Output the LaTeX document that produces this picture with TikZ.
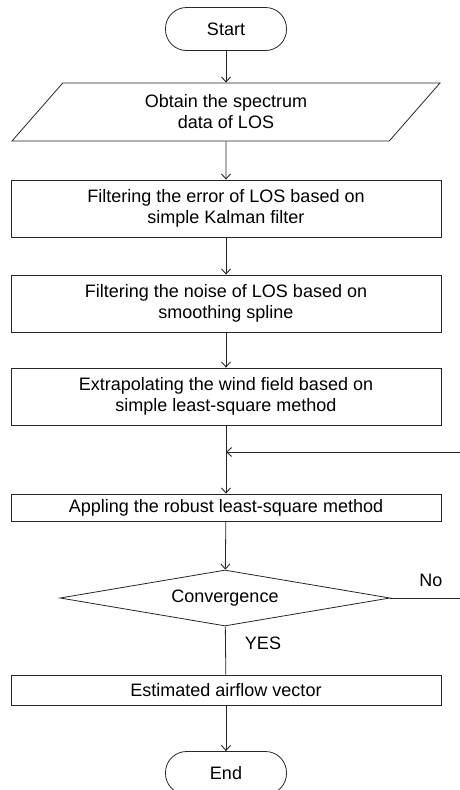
\documentclass[tikz,border=0pt]{standalone}
\usepackage{fontspec}
\setmainfont{Liberation Sans}
\usetikzlibrary{shapes.geometric,arrows.meta}

\tikzset{
  base/.style={draw=black!85, line width=0.8pt, align=center, inner sep=0pt,
    font=\fontsize{18}{21}\selectfont},
  terminal/.style={base, rectangle, rounded corners=21pt,
    minimum width=121pt, minimum height=43pt},
  iobox/.style={base, trapezium, trapezium left angle=34, trapezium right angle=146,
    trapezium stretches body, minimum width=428pt, minimum height=58pt},
  procbox/.style={base, rectangle, minimum width=430pt},
  decision/.style={base, diamond, aspect=6, minimum width=330pt, minimum height=56pt},
  flow/.style={draw=black!85, line width=0.8pt,
    -{Straight Barb[length=5pt,width=9pt,line width=0.9pt]}},
  plainline/.style={draw=black!85, line width=0.8pt},
  lbl/.style={font=\fontsize{18}{21}\selectfont, inner sep=0pt}
}

\begin{document}
\begin{tikzpicture}[x=1pt,y=-1pt]
  \useasboundingbox (0,0) rectangle (459,790);

  % main column of steps
  \node[terminal] (start) at (226,29) {Start};
  \node[iobox] (obtain) at (226,112) {Obtain the spectrum\\data of LOS};
  \node[procbox, minimum height=57pt] (kalman) at (226,208.5)
    {Filtering the error of LOS based on\\simple Kalman filter};
  \node[procbox, minimum height=57pt] (spline) at (226,303.5)
    {Filtering the noise of LOS based on\\smoothing spline};
  \node[procbox, minimum height=57pt] (extra) at (226,396.5)
    {Extrapolating the wind field based on\\simple least-square method};
  \node[procbox, minimum height=27pt] (robust) at (226,507.5)
    {Appling the robust least-square method};
  \node[decision] (conv) at (225,598) {Convergence};
  \node[procbox, minimum height=30pt] (est) at (226,690) {Estimated airflow vector};
  \node[terminal] (end) at (226,773) {End};

  % connectors
  \draw[flow] (start) -- (obtain);
  \draw[flow] (obtain) -- (kalman);
  \draw[flow] (kalman) -- (spline);
  \draw[flow] (spline) -- (extra);
  \draw[flow] (extra) -- (robust);
  \draw[flow] (robust) -- (conv);
  \draw[plainline] (conv) -- (est);
  \draw[flow] (est) -- (end);

  % feedback loop from the decision back into the column
  \coordinate (loopA) at (463,598);
  \coordinate (loopB) at (463,452);
  \coordinate (join) at (226,452);
  \draw[flow] (conv.east) -- (loopA) -- (loopB) -- (join);

  % branch labels
  \node[lbl] (nolbl) at (431,580) {No};
  \node[lbl] (yeslbl) at (263,643) {YES};
\end{tikzpicture}
\end{document}
